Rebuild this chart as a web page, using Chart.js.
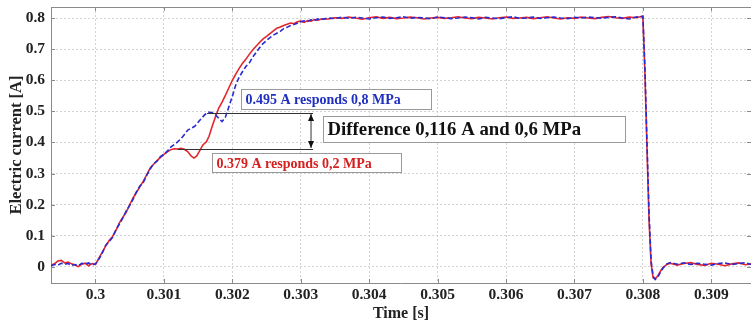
<!DOCTYPE html>
<html>
<head>
<meta charset="utf-8">
<script src="https://cdn.jsdelivr.net/npm/chart.js@4"></script>
<style>
  body { margin: 0; background: #fff; }
  canvas { display: block; }
</style>
</head>
<body>
<canvas id="chart" width="751" height="326"></canvas>
<script>
// time [s], current [A]
const redTrace = [
  [0.29935,0.006],[0.29940,0.010],[0.29945,0.019],[0.29950,0.021],[0.29955,0.013],[0.29960,0.016],[0.29965,0.010],
  [0.29970,0.006],[0.29975,0.001],[0.29980,0.009],[0.29985,0.012],[0.29990,0.004],[0.29995,0.011],[0.30000,0.008],
  [0.30005,0.028],[0.30010,0.048],[0.30015,0.068],[0.30020,0.085],[0.30025,0.098],[0.30030,0.118],[0.30035,0.142],
  [0.30040,0.160],[0.30045,0.176],[0.30050,0.200],[0.30055,0.222],[0.30060,0.240],[0.30065,0.258],[0.30070,0.276],
  [0.30075,0.297],[0.30080,0.318],[0.30085,0.330],[0.30090,0.342],[0.30095,0.352],[0.30100,0.362],[0.30105,0.370],
  [0.30110,0.377],[0.30115,0.380],[0.30120,0.379],[0.30125,0.381],[0.30130,0.378],[0.30135,0.370],[0.30140,0.356],
  [0.30144,0.350],[0.30148,0.357],[0.30152,0.372],[0.30157,0.392],[0.30162,0.402],[0.30166,0.420],[0.30170,0.448],
  [0.30175,0.480],[0.30180,0.510],[0.30185,0.530],[0.30190,0.552],[0.30195,0.576],[0.30200,0.600],[0.30205,0.620],
  [0.30210,0.638],[0.30215,0.655],[0.30220,0.668],[0.30225,0.684],[0.30230,0.698],[0.30235,0.710],[0.30240,0.722],
  [0.30245,0.733],[0.30250,0.741],[0.30255,0.750],[0.30260,0.759],[0.30265,0.767],[0.30270,0.771],[0.30275,0.776],
  [0.30280,0.780],[0.30285,0.784],[0.30290,0.782],[0.30295,0.788],[0.30300,0.790],[0.30305,0.786],[0.30310,0.792],
  [0.30315,0.790],[0.30320,0.795],[0.30325,0.793],[0.30330,0.797],
  [0.30340,0.797],[0.30350,0.801],[0.30360,0.799],[0.30370,0.803],[0.30380,0.800],[0.30390,0.796],[0.30400,0.801],
  [0.30410,0.804],[0.30420,0.799],[0.30430,0.802],[0.30440,0.798],[0.30450,0.800],[0.30460,0.803],[0.30470,0.801],
  [0.30480,0.797],[0.30490,0.800],[0.30500,0.802],[0.30510,0.799],[0.30520,0.801],[0.30530,0.804],[0.30540,0.800],
  [0.30550,0.798],[0.30560,0.802],[0.30570,0.800],[0.30580,0.797],[0.30590,0.801],[0.30600,0.803],[0.30610,0.799],
  [0.30620,0.800],[0.30630,0.802],[0.30640,0.798],[0.30650,0.801],[0.30660,0.804],[0.30670,0.800],[0.30680,0.797],
  [0.30690,0.801],[0.30700,0.799],[0.30710,0.803],[0.30720,0.800],[0.30730,0.798],[0.30740,0.802],[0.30750,0.805],
  [0.30760,0.801],[0.30770,0.799],[0.30780,0.803],[0.30790,0.801],[0.30800,0.806],
  [0.30803,0.620],[0.30806,0.380],[0.30809,0.150],[0.30812,0.010],[0.30815,-0.035],[0.30818,-0.038],[0.30822,-0.028],
  [0.30826,-0.012],[0.30830,0.000],[0.30835,0.008],[0.30840,0.012],[0.30850,0.006],[0.30860,0.011],[0.30870,0.014],
  [0.30880,0.008],[0.30890,0.005],[0.30900,0.012],[0.30910,0.009],[0.30920,0.004],[0.30930,0.010],[0.30940,0.013],
  [0.30950,0.007],[0.30958,0.010]
];

const blueTrace = [
  [0.29935,0.004],[0.29940,0.008],[0.29945,0.006],[0.29950,0.012],[0.29955,0.009],[0.29960,0.011],[0.29965,0.005],
  [0.29970,0.008],[0.29975,0.004],[0.29980,0.012],[0.29985,0.010],[0.29990,0.013],[0.29995,0.007],[0.30000,0.010],
  [0.30005,0.025],[0.30010,0.045],[0.30015,0.070],[0.30020,0.082],[0.30025,0.095],[0.30030,0.120],[0.30035,0.138],
  [0.30040,0.158],[0.30045,0.180],[0.30050,0.198],[0.30055,0.218],[0.30060,0.242],[0.30065,0.260],[0.30070,0.272],
  [0.30075,0.295],[0.30080,0.315],[0.30085,0.332],[0.30090,0.340],[0.30095,0.355],[0.30100,0.362],[0.30105,0.372],
  [0.30110,0.385],[0.30115,0.393],[0.30120,0.402],[0.30125,0.412],[0.30130,0.426],[0.30135,0.440],[0.30140,0.446],
  [0.30145,0.452],[0.30150,0.465],[0.30155,0.478],[0.30160,0.490],[0.30165,0.497],[0.30170,0.496],[0.30175,0.490],
  [0.30180,0.478],[0.30185,0.467],[0.30190,0.482],[0.30195,0.515],[0.30200,0.548],[0.30205,0.585],[0.30210,0.610],
  [0.30215,0.628],[0.30220,0.645],[0.30225,0.656],[0.30230,0.675],[0.30235,0.690],[0.30240,0.705],[0.30245,0.718],
  [0.30250,0.728],[0.30255,0.737],[0.30260,0.745],[0.30265,0.751],[0.30270,0.757],[0.30275,0.766],[0.30280,0.770],
  [0.30285,0.776],[0.30290,0.779],[0.30295,0.783],[0.30300,0.788],[0.30305,0.791],[0.30310,0.789],[0.30315,0.794],
  [0.30320,0.792],[0.30325,0.797],[0.30330,0.795],
  [0.30340,0.800],[0.30350,0.798],[0.30360,0.803],[0.30370,0.799],[0.30380,0.802],[0.30390,0.800],[0.30400,0.797],
  [0.30410,0.801],[0.30420,0.803],[0.30430,0.799],[0.30440,0.801],[0.30450,0.804],[0.30460,0.799],[0.30470,0.802],
  [0.30480,0.800],[0.30490,0.798],[0.30500,0.803],[0.30510,0.801],[0.30520,0.798],[0.30530,0.800],[0.30540,0.803],
  [0.30550,0.801],[0.30560,0.797],[0.30570,0.802],[0.30580,0.800],[0.30590,0.798],[0.30600,0.801],[0.30610,0.804],
  [0.30620,0.799],[0.30630,0.800],[0.30640,0.803],[0.30650,0.799],[0.30660,0.801],[0.30670,0.803],[0.30680,0.800],
  [0.30690,0.798],[0.30700,0.802],[0.30710,0.800],[0.30720,0.803],[0.30730,0.801],[0.30740,0.799],[0.30750,0.802],
  [0.30760,0.804],[0.30770,0.800],[0.30780,0.797],[0.30790,0.803],[0.30800,0.805],
  [0.30803,0.640],[0.30806,0.400],[0.30809,0.170],[0.30812,0.020],[0.30815,-0.030],[0.30818,-0.040],[0.30822,-0.032],
  [0.30826,-0.015],[0.30830,-0.002],[0.30835,0.010],[0.30840,0.014],[0.30850,0.009],[0.30860,0.013],[0.30870,0.008],
  [0.30880,0.012],[0.30890,0.009],[0.30900,0.006],[0.30910,0.011],[0.30920,0.013],[0.30930,0.008],[0.30940,0.011],
  [0.30950,0.014],[0.30958,0.008]
];

const xTicks = [0.300, 0.301, 0.302, 0.303, 0.304, 0.305, 0.306, 0.307, 0.308, 0.309];
const xTickLabels = ["0.3", "0.301", "0.302", "0.303", "0.304", "0.305", "0.306", "0.307", "0.308", "0.309"];
const yTicks = [0, 0.1, 0.2, 0.3, 0.4, 0.5, 0.6, 0.7, 0.8];
const yTickLabels = ["0", "0.1", "0.2", "0.3", "0.4", "0.5", "0.6", "0.7", "0.8"];

const blueLevel = 0.495;
const redLevel = 0.379;

const serif = "'Liberation Serif', 'Times New Roman', serif";

// boxes, reference lines and inward tick marks
const notes = {
  id: "notes",
  afterDatasetsDraw(chart) {
    const { ctx, chartArea: a, scales: { x, y } } = chart;
    const X = v => x.getPixelForValue(v);
    const Y = v => y.getPixelForValue(v);
    ctx.save();

    // frame top + inward ticks
    ctx.strokeStyle = "#8a8a8a";
    ctx.lineWidth = 1;
    ctx.beginPath();
    ctx.moveTo(a.left, a.top + 0.5);
    ctx.lineTo(a.right, a.top + 0.5);
    xTicks.forEach(v => {
      const px = Math.round(X(v)) + 0.5;
      ctx.moveTo(px, a.bottom); ctx.lineTo(px, a.bottom - 4);
      ctx.moveTo(px, a.top); ctx.lineTo(px, a.top + 4);
    });
    yTicks.forEach(v => {
      const py = Math.round(Y(v)) + 0.5;
      ctx.moveTo(a.left, py); ctx.lineTo(a.left + 4, py);
      ctx.moveTo(a.right, py); ctx.lineTo(a.right - 4, py);
    });
    ctx.stroke();

    // level lines and double arrow
    const arrowX = X(0.30315);
    ctx.strokeStyle = "#333";
    ctx.beginPath();
    ctx.moveTo(X(0.30163), Math.round(Y(blueLevel)) + 0.5);
    ctx.lineTo(X(0.30318), Math.round(Y(blueLevel)) + 0.5);
    ctx.moveTo(X(0.30120), Math.round(Y(redLevel)) + 0.5);
    ctx.lineTo(X(0.30318), Math.round(Y(redLevel)) + 0.5);
    ctx.moveTo(arrowX, Y(blueLevel) + 1);
    ctx.lineTo(arrowX, Y(redLevel) - 1);
    ctx.stroke();
    ctx.fillStyle = "#111";
    ctx.beginPath();
    ctx.moveTo(arrowX, Y(blueLevel) + 1);
    ctx.lineTo(arrowX - 3, Y(blueLevel) + 8);
    ctx.lineTo(arrowX + 3, Y(blueLevel) + 8);
    ctx.closePath();
    ctx.moveTo(arrowX, Y(redLevel) - 1);
    ctx.lineTo(arrowX - 3, Y(redLevel) - 8);
    ctx.lineTo(arrowX + 3, Y(redLevel) - 8);
    ctx.closePath();
    ctx.fill();

    // text boxes
    const box = (x0, x1, y0, y1, text, color, size) => {
      const l = Math.round(X(x0)) + 0.5, r = Math.round(X(x1)) + 0.5;
      const t = Math.round(Y(y0)) + 0.5, b = Math.round(Y(y1)) + 0.5;
      ctx.fillStyle = "#fff";
      ctx.fillRect(l, t, r - l, b - t);
      ctx.strokeStyle = "#9a9a9a";
      ctx.lineWidth = 1;
      ctx.strokeRect(l, t, r - l, b - t);
      ctx.fillStyle = color;
      ctx.font = "bold " + size + "px " + serif;
      ctx.textBaseline = "middle";
      ctx.textAlign = "left";
      ctx.fillText(text, l + 4, (t + b) / 2 + 1);
    };
    box(0.302124, 0.304902, 0.572, 0.508, "0.495 A responds 0,8 MPa", "#1f2fc0", 14);
    box(0.301700, 0.304463, 0.367, 0.305, "0.379 A responds 0,2 MPa", "#d42020", 14);
    box(0.303323, 0.307738, 0.486, 0.402, "Difference 0,116 A and 0,6 MPa", "#111", 18.8);

    ctx.restore();
  }
};

new Chart(document.getElementById("chart"), {
  type: "line",
  data: {
    datasets: [{
      label: "blue",
      data: blueTrace.map(p => ({ x: p[0], y: p[1] })),
      borderColor: "#2a2ad2",
      borderWidth: 1.6,
      borderDash: [5, 2.5],
      pointRadius: 0,
      tension: 0
    }, {
      label: "red",
      data: redTrace.map(p => ({ x: p[0], y: p[1] })),
      borderColor: "#e3262b",
      borderWidth: 1.6,
      pointRadius: 0,
      tension: 0
    }]
  },
  options: {
    responsive: false,
    animation: false,
    layout: { padding: { top: 7, right: 0, left: 0, bottom: 0 } },
    plugins: {
      legend: { display: false },
      tooltip: { enabled: false }
    },
    scales: {
      x: {
        type: "linear",
        min: 0.29935,
        max: 0.30958,
        afterBuildTicks: s => { s.ticks = xTicks.map(v => ({ value: v })); },
        afterFit: s => { s.height = 43; s.paddingLeft = 0; s.paddingRight = 0; },
        ticks: {
          padding: 3,
          color: "#222",
          font: { family: serif, size: 15.5, weight: "bold" },
          callback: (v, i) => xTickLabels[i]
        },
        grid: { color: "#d2d2d2", drawTicks: false },
        border: { color: "#8a8a8a", dash: [2, 2] },
        title: {
          display: true,
          text: "Time [s]",
          color: "#222",
          font: { family: serif, size: 16, weight: "bold" },
          padding: { top: 0, bottom: 3 }
        }
      },
      y: {
        type: "linear",
        min: -0.0515,
        max: 0.8354,
        afterBuildTicks: s => { s.ticks = yTicks.map(v => ({ value: v })); },
        afterFit: s => { s.width = 51; s.paddingTop = 0; s.paddingBottom = 0; },
        ticks: {
          padding: 6,
          color: "#222",
          font: { family: serif, size: 15.5, weight: "bold" },
          callback: (v, i) => yTickLabels[i]
        },
        grid: { color: "#d2d2d2", drawTicks: false },
        border: { color: "#8a8a8a", dash: [2, 2] },
        title: {
          display: true,
          text: "Electric current [A]",
          color: "#222",
          font: { family: serif, size: 16.5, weight: "bold" },
          padding: { top: 7, bottom: 0 }
        }
      }
    }
  },
  plugins: [notes]
});
</script>
</body>
</html>
